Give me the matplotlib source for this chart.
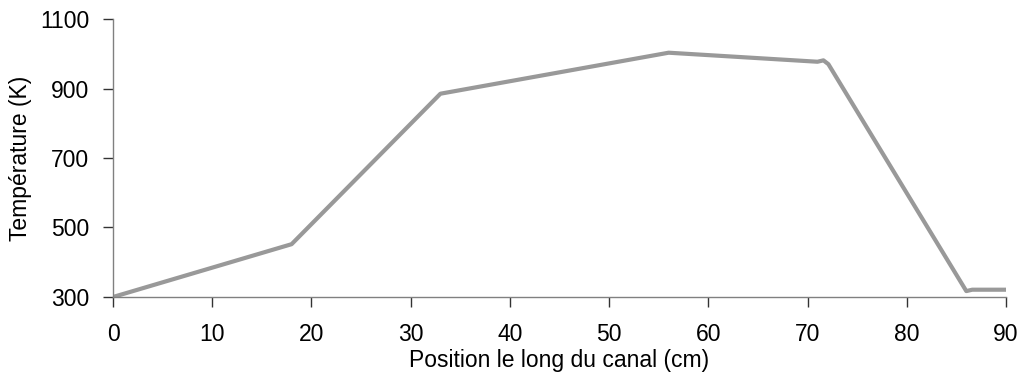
import matplotlib
matplotlib.use("Agg")
import matplotlib.pyplot as plt

position_cm = [0, 18, 33, 56, 71, 71.6, 72.1, 86, 86.6, 90]
temperature_K = [300, 452, 885, 1003, 977, 981, 970, 317, 321, 321]
x_ticks = [0, 10, 20, 30, 40, 50, 60, 70, 80, 90]
y_ticks = [300, 500, 700, 900, 1100]

plt.rcParams['font.family'] = ['Liberation Sans', 'DejaVu Sans']

fig = plt.figure(figsize=(10.19, 3.74), dpi=100)
ax = fig.add_axes([113/1019, 1 - 297/374, (1006-113)/1019, (297-19)/374])
ax.plot(position_cm, temperature_K, color='#999999', lw=3.0,
        solid_joinstyle='round', solid_capstyle='butt')
ax.set_xlim(0, 90)
ax.set_ylim(300, 1100)
ax.set_xticks(x_ticks)
ax.set_yticks(y_ticks)
for s in ['top', 'right']:
    ax.spines[s].set_visible(False)
for s in ['left', 'bottom']:
    ax.spines[s].set_color('#808080')
    ax.spines[s].set_linewidth(1.0)
ax.tick_params(axis='both', direction='out', length=7, width=1.0,
               color='#333333', labelsize=16.5, labelcolor='black')
ax.tick_params(axis='x', pad=12)
ax.tick_params(axis='y', pad=10)
ax.set_xlabel('Position le long du canal (cm)', fontsize=16.5, labelpad=2)
ax.set_ylabel('Température (K)', fontsize=16.5, labelpad=6)
fig.savefig('out.png', dpi=100)
